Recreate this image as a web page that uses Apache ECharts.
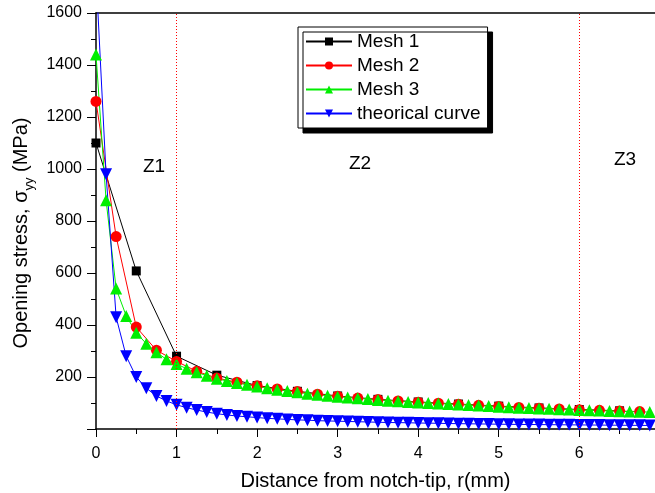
<!DOCTYPE html>
<html>
<head>
<meta charset="utf-8">
<script src="https://cdn.jsdelivr.net/npm/echarts@6/dist/echarts.min.js"></script>
<style>html,body{margin:0;padding:0;background:#fff;}#c{width:655px;height:493px;}</style>
</head>
<body>
<div id="c"></div>
<script>
// ---- data ----
const seriesNames = ['Mesh 1', 'Mesh 2', 'Mesh 3', 'theorical curve'];
const xTicks = [0, 1, 2, 3, 4, 5, 6];
const yTicks = [200, 400, 600, 800, 1000, 1200, 1400, 1600];
const zoneLabels = ['Z1', 'Z2', 'Z3'];
const zoneBounds = [1, 6];

const mesh1X = [0, 0.5, 1, 1.5, 2, 2.5, 3, 3.5, 4, 4.5, 5, 5.5, 6, 6.5];
const mesh1Y = [1100, 608, 280, 207, 167, 145, 127, 114, 104, 96, 88, 81, 75, 70];

const mesh2X = [0, 0.25, 0.5, 0.75, 1, 1.25, 1.5, 1.75, 2, 2.25, 2.5, 2.75, 3, 3.25, 3.5, 3.75, 4, 4.25, 4.5, 4.75, 5, 5.25, 5.5, 5.75, 6, 6.25, 6.5, 6.75];
const mesh2Y = [1260, 740, 392, 303, 260, 222, 196, 180, 166, 154, 144, 134, 126, 119, 113, 108, 103, 99, 95, 91, 87, 83, 80, 77, 74, 72, 69, 67];

const mesh3X = [0, 0.125, 0.25, 0.375, 0.5, 0.625, 0.75, 0.875, 1, 1.125, 1.25, 1.375, 1.5, 1.625, 1.75, 1.875,
  2, 2.125, 2.25, 2.375, 2.5, 2.625, 2.75, 2.875, 3, 3.125, 3.25, 3.375, 3.5, 3.625, 3.75, 3.875,
  4, 4.125, 4.25, 4.375, 4.5, 4.625, 4.75, 4.875, 5, 5.125, 5.25, 5.375, 5.5, 5.625, 5.75, 5.875,
  6, 6.125, 6.25, 6.375, 6.5, 6.625, 6.75, 6.875];
const mesh3Y = [1440, 880, 540, 435, 370, 328, 295, 268, 250, 232, 218, 205, 193, 185, 177, 170,
  163, 157, 151, 146, 141, 136, 132, 128, 124, 121, 118, 115, 112, 109, 107, 104,
  102, 100, 98, 96, 94, 92, 90, 88, 86, 84, 82, 81, 79, 78, 76, 75,
  73, 72, 71, 69, 68, 67, 66, 65];

const theoX = [0, 0.125, 0.25, 0.375, 0.5, 0.625, 0.75, 0.875, 1, 1.125, 1.25, 1.375, 1.5, 1.625, 1.75, 1.875,
  2, 2.125, 2.25, 2.375, 2.5, 2.625, 2.75, 2.875, 3, 3.125, 3.25, 3.375, 3.5, 3.625, 3.75, 3.875,
  4, 4.125, 4.25, 4.375, 4.5, 4.625, 4.75, 4.875, 5, 5.125, 5.25, 5.375, 5.5, 5.625, 5.75, 5.875,
  6, 6.125, 6.25, 6.375, 6.5, 6.625, 6.75, 6.875];
const theoY = [1750, 980, 430, 280, 200, 157, 127, 108, 93, 82, 73, 65, 59, 54, 50, 47,
  44, 41, 39, 37, 35, 34, 32, 31, 30, 29, 28, 27, 26, 25, 24.5, 24,
  23, 22.5, 22, 21, 20.5, 20, 19.5, 19, 18.5, 18, 17.7, 17.3, 17, 16.6, 16.3, 16,
  15.7, 15.4, 15.1, 14.8, 14.5, 14.2, 14, 13.7];

// ---- chart ----
const pair = (xs, ys) => xs.map((x, i) => [x, ys[i]]);
const FONT = 'Liberation Sans';
const chart = echarts.init(document.getElementById('c'), null, { renderer: 'canvas' });

const baseSeries = (name, xs, ys, color, symbol, size, rotate) => ({
  name, type: 'line', data: pair(xs, ys), clip: true,
  symbol, symbolSize: size, symbolRotate: rotate || 0, showAllSymbol: true,
  lineStyle: { color, width: 1 }, itemStyle: { color },
  emphasis: { disabled: true }, animation: false
});

const s1 = baseSeries(seriesNames[0], mesh1X, mesh1Y, '#000000', 'rect', 9);
const s2 = baseSeries(seriesNames[1], mesh2X, mesh2Y, '#ff0000', 'circle', 11);
const s3 = baseSeries(seriesNames[2], mesh3X, mesh3Y, '#00ee00', 'triangle', 12);
const s4 = baseSeries(seriesNames[3], theoX, theoY, '#0000ff', 'triangle', 12, 180);
s1.markLine = {
  silent: true, symbol: 'none', label: { show: false },
  lineStyle: { color: '#ff0000', type: [1, 2], width: 1 },
  data: zoneBounds.map(v => ({ xAxis: v }))
};

const zoneText = (label, x, y) => ({
  type: 'text', x, y,
  style: { text: label, font: '19px "Liberation Sans"', fill: '#000', align: 'center', verticalAlign: 'middle' }
});

chart.setOption({
  animation: false,
  textStyle: { fontFamily: FONT },
  grid: { left: 96, right: 0, top: 13, bottom: 64, containLabel: false, outerBoundsMode: 'none' },
  xAxis: [{
    type: 'value', min: 0, max: 6.94, interval: 1, position: 'bottom',
    axisLine: { lineStyle: { color: '#000', width: 1.5 } },
    axisTick: { show: true, inside: false, length: 8, lineStyle: { color: '#000' } },
    minorTick: { show: true, splitNumber: 2, length: 5, lineStyle: { color: '#000' } },
    splitLine: { show: false },
    axisLabel: { show: true, color: '#000', fontSize: 16, fontFamily: FONT, margin: 17, showMaxLabel: false,
      formatter: v => (xTicks.indexOf(v) >= 0 ? String(v) : '') },
    name: 'Distance from notch-tip, r(mm)', nameLocation: 'middle', nameGap: 42,
    nameTextStyle: { color: '#000', fontSize: 20, fontFamily: FONT }
  }, {
    type: 'value', min: 0, max: 6.94, position: 'top',
    axisLine: { show: true, lineStyle: { color: '#000', width: 1.5 } },
    axisTick: { show: false }, axisLabel: { show: false }, splitLine: { show: false }
  }],
  yAxis: [{
    type: 'value', min: 0, max: 1600, interval: 200,
    axisLine: { show: true, lineStyle: { color: '#000', width: 1.5 } },
    axisTick: { show: true, inside: false, length: 9, lineStyle: { color: '#000' } },
    minorTick: { show: true, splitNumber: 2, length: 5, lineStyle: { color: '#000' } },
    splitLine: { show: false },
    axisLabel: { color: '#000', fontSize: 16, fontFamily: FONT, margin: 14, showMinLabel: false,
      formatter: v => (yTicks.indexOf(v) >= 0 ? String(v) : '') },
    name: '{a|Opening stress, σ}{s|yy}{a| (MPa)}', nameLocation: 'middle', nameGap: 59,
    nameTextStyle: {
      color: '#000', fontFamily: FONT, padding: [0, 24, 0, 0],
      rich: {
        a: { fontSize: 20, fontFamily: FONT, color: '#000', lineHeight: 28, verticalAlign: 'middle' },
        s: { fontSize: 13, fontFamily: FONT, color: '#000', lineHeight: 28, verticalAlign: 'bottom', padding: [12, 0, 0, 0] }
      }
    }
  }],
  legend: {
    show: true, orient: 'vertical', left: 298, top: 27,
    data: seriesNames,
    itemWidth: 46, itemHeight: 10, itemGap: 5,
    padding: [5, 7, 5, 7],
    backgroundColor: '#fff', borderColor: '#000', borderWidth: 1,
    shadowColor: 'rgba(0,0,0,1)', shadowOffsetX: 5, shadowOffsetY: 5, shadowBlur: 0,
    textStyle: { color: '#000', fontSize: 19, fontFamily: FONT, padding: [0, 0, 0, 0] },
    selectedMode: false
  },
  graphic: [
    zoneText(zoneLabels[0], 154, 167),
    zoneText(zoneLabels[1], 360, 164),
    zoneText(zoneLabels[2], 625, 160)
  ],
  series: [s1, s2, s3, s4]
});
</script>
</body>
</html>
